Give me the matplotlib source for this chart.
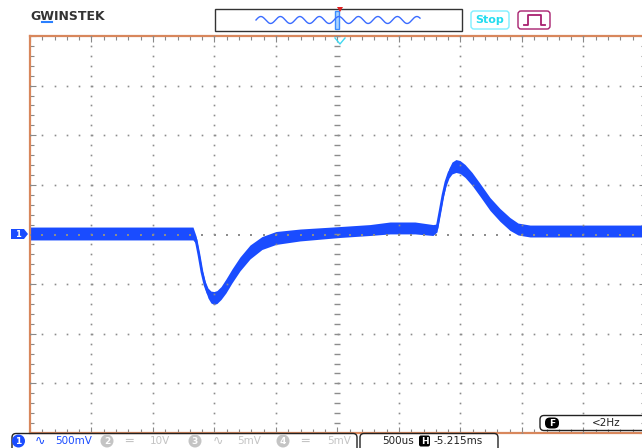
import numpy as np
import matplotlib.pyplot as plt
from matplotlib.patches import FancyBboxPatch, Rectangle, Polygon, Circle

# trace: time (ms from trigger), centre level (V), noise half-band (V)
t_ms = [-2.500, -1.175, -1.150, -1.126, -1.102, -1.077, -1.053, -1.029, -1.004, -0.980,
        -0.947, -0.907, -0.858, -0.793, -0.711, -0.614, -0.500, -0.305, 0.020, 0.264,
        0.427, 0.630, 0.776, 0.809, 0.833, 0.858, 0.882, 0.907, 0.931, 0.963,
        0.996, 1.037, 1.094, 1.159, 1.240, 1.321, 1.402, 1.468, 1.565, 2.500]
v_mid = [0.010, 0.010, -0.055, -0.207, -0.378, -0.509, -0.590, -0.630, -0.640, -0.630,
         -0.590, -0.519, -0.418, -0.297, -0.176, -0.086, -0.035, -0.005, 0.025, 0.045,
         0.066, 0.066, 0.045, 0.066, 0.227, 0.398, 0.529, 0.620, 0.670, 0.690,
         0.680, 0.640, 0.560, 0.449, 0.307, 0.197, 0.106, 0.055, 0.035, 0.035]
v_band = [0.065, 0.065, 0.04, 0.03, 0.03, 0.04, 0.05, 0.06, 0.065, 0.065,
          0.065, 0.07, 0.07, 0.07, 0.07, 0.065, 0.065, 0.06, 0.055, 0.055,
          0.06, 0.06, 0.055, 0.04, 0.03, 0.03, 0.04, 0.05, 0.06, 0.065,
          0.065, 0.065, 0.065, 0.065, 0.065, 0.065, 0.065, 0.06, 0.06, 0.06]

volts_div = 0.5
ms_div = 0.5
ch1_label = "500mV"
time_label = "500us"
pos_label = "-5.215ms"
freq_label = "<2Hz"

t = np.array(t_ms)
v = np.array(v_mid)
b = np.array(v_band)

W, H = 642, 448
fig = plt.figure(figsize=(W / 100, H / 100), dpi=100)
fig.patch.set_facecolor('white')

# scope screen: 10 x 8 divisions, px 30..645 by 36..433
ax = fig.add_axes([30 / W, (H - 433) / H, 615 / W, 397 / H])
ax.set_xlim(-5 * ms_div, 5 * ms_div)
ax.set_ylim(-4 * volts_div, 4 * volts_div)
ax.set_facecolor('white')
for s in ax.spines.values():
    s.set_color('#d8875c')
    s.set_linewidth(1.6)
ax.set_xticks(np.arange(-5, 6) * ms_div)
ax.set_yticks(np.arange(-4, 5) * volts_div)
ax.set_xticks(np.arange(-5, 5.01, 0.2) * ms_div, minor=True)
ax.set_yticks(np.arange(-4, 4.01, 0.2) * volts_div, minor=True)
ax.tick_params(which='both', direction='in', labelbottom=False, labelleft=False,
               top=True, right=True, color='#888888', width=0.8)
ax.tick_params(which='major', length=4)
ax.tick_params(which='minor', length=3)

trace_blue = '#1a4cff'
ax.fill_between(t, v - b, v + b, color=trace_blue, lw=0, zorder=2)
ax.plot(t, v, color=trace_blue, lw=2, zorder=2)

# dotted graticule on top of the trace
dot = '#8c8c8c'
fine_y = np.arange(-4, 4.01, 0.2) * volts_div
fine_x = np.arange(-5, 5.01, 0.2) * ms_div
for gx in np.arange(-4, 5):
    if gx == 0:
        ax.plot(np.zeros_like(fine_y), fine_y, ls='none', marker='_', ms=4, mew=1, color=dot, zorder=3)
    else:
        ax.plot(np.full_like(fine_y, gx * ms_div), fine_y, ls='none', marker='s', ms=1.2, mew=0, color=dot, zorder=3)
for gy in np.arange(-3, 4):
    ax.plot(fine_x, np.full_like(fine_x, gy * volts_div), ls='none', marker='s',
            ms=1.5 if gy == 0 else 1.2, mew=0, color=dot, zorder=3)

# overlay in pixel coordinates for the instrument UI
ui = fig.add_axes([0, 0, 1, 1], zorder=5)
ui.set_xlim(0, W)
ui.set_ylim(H, 0)
ui.axis('off')
ui.patch.set_alpha(0)

# logo
ui.text(30, 16, "GWINSTEK", fontsize=9, fontweight='bold', color='#333333', va='center', ha='left')
ui.plot([42, 52], [22.5, 22.5], color='#2a7fff', lw=1.5)

# memory preview box
ui.add_patch(Rectangle((215, 9), 247, 22, fill=False, ec='#333333', lw=1))
wx = np.linspace(256, 420, 300)
ui.plot(wx, 20 + 3.5 * np.sin((wx - 256) / 19.5 * 2 * np.pi + np.pi), color='#3a6cff', lw=1)
ui.add_patch(Rectangle((335, 11.5), 3.5, 18, fc='#aad4ff', ec='#3a8cff', lw=1))
ui.add_patch(Polygon([(337, 7), (343, 7), (340, 12)], fc='#e02020', ec='none'))

# Stop and trigger-mode buttons
ui.add_patch(FancyBboxPatch((471, 11), 38, 18, boxstyle='round,pad=0,rounding_size=3',
                            fill=False, ec='#7fefff', lw=1))
ui.text(490, 20, "Stop", fontsize=8, fontweight='bold', color='#22dcef', ha='center', va='center')
ui.add_patch(FancyBboxPatch((518, 11), 32, 18, boxstyle='round,pad=0,rounding_size=3',
                            fill=False, ec='#a8206e', lw=1))
ui.plot([524, 528, 528, 541, 541, 545], [25, 25, 15.5, 15.5, 25, 25], color='#a8206e', lw=1.3)

# trigger position marker
ui.plot([335, 340, 345], [38, 44, 38], color='#40d8f0', lw=1)

# channel 1 ground marker
ui.add_patch(Polygon([(11, 229), (24, 229), (28, 234), (24, 239), (11, 239)], fc=trace_blue, ec='none'))
ui.text(18, 234.5, "1", fontsize=6, fontweight='bold', color='white', ha='center', va='center')

# frequency readout
ui.add_patch(FancyBboxPatch((540, 415.5), 120, 15, boxstyle='round,pad=0,rounding_size=4',
                            fill=False, ec='#222222', lw=1))
ui.add_patch(FancyBboxPatch((545, 417.5), 14, 11, boxstyle='round,pad=0,rounding_size=5',
                            fc='black', ec='none'))
ui.text(552, 423, "F", fontsize=6.5, fontweight='bold', color='white', ha='center', va='center')
ui.text(592, 423.5, freq_label, fontsize=7.5, color='#222222', ha='left', va='center')

# status bar
ui.add_patch(FancyBboxPatch((12, 433.5), 345, 20, boxstyle='round,pad=0,rounding_size=4',
                            fill=False, ec='#222222', lw=1))
ui.add_patch(FancyBboxPatch((360, 433.5), 138, 20, boxstyle='round,pad=0,rounding_size=4',
                            fill=False, ec='#222222', lw=1))
ui.add_patch(Circle((18.5, 441), 6.5, fc=trace_blue, ec='none'))
ui.text(18.5, 441.5, "1", fontsize=6.5, fontweight='bold', color='white', ha='center', va='center')
ui.text(40, 441, "\u223f", fontsize=9, color=trace_blue, ha='center', va='center')
ui.text(55, 441, ch1_label, fontsize=7.5, color=trace_blue, ha='left', va='center')

grey = '#c4c4c4'
for cx, num, sym, sx, lab, lx in [(107, "2", "\u2550", 129, "10V", 150),
                                  (195, "3", "\u223f", 218, "5mV", 237),
                                  (283, "4", "\u2550", 305, "5mV", 327)]:
    ui.add_patch(Circle((cx, 441), 6.5, fc=grey, ec='none'))
    ui.text(cx, 441.5, num, fontsize=6.5, fontweight='bold', color='white', ha='center', va='center')
    ui.text(sx, 441, sym, fontsize=9, color=grey, ha='center', va='center')
    ui.text(lx, 441, lab, fontsize=7.5, color=grey, ha='left', va='center')

ui.text(382, 441, time_label, fontsize=7.5, color='#222222', ha='left', va='center')
ui.add_patch(FancyBboxPatch((419, 435.5), 11, 11, boxstyle='round,pad=0,rounding_size=2',
                            fc='black', ec='none'))
ui.text(424.5, 441, "H", fontsize=6.5, fontweight='bold', color='white', ha='center', va='center')
ui.text(434, 441, pos_label, fontsize=7.5, color='#222222', ha='left', va='center')

fig.savefig('out.png', dpi=100)
